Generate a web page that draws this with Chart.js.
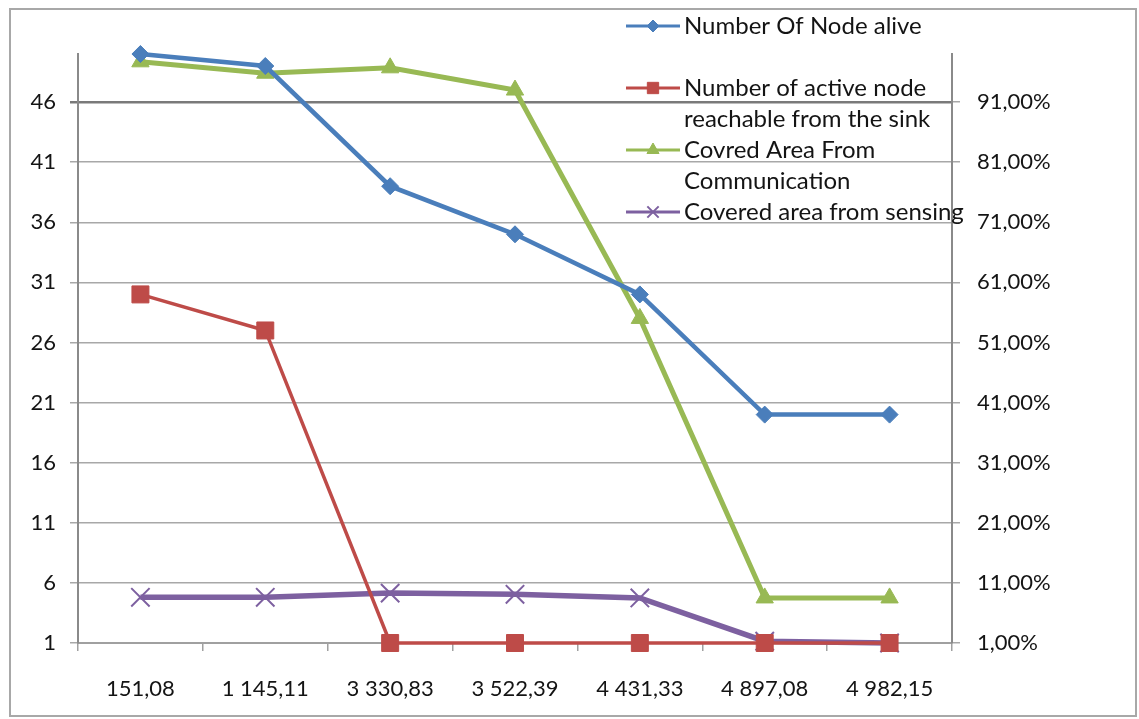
<!DOCTYPE html>
<html>
<head>
<meta charset="utf-8">
<script src="https://cdn.jsdelivr.net/npm/chart.js@4"></script>
<style>
  html, body { margin: 0; padding: 0; background: #ffffff; }
  canvas { display: block; }
</style>
</head>
<body>
<canvas id="chart" width="1139" height="719"></canvas>
<script>
// Simulation time (x categories)
const categories = ['151,08', '1 145,11', '3 330,83', '3 522,39', '4 431,33', '4 897,08', '4 982,15'];

// Left axis series (node counts)
const nodesAlive = [50, 49, 39, 35, 30, 20, 20];
const activeReachable = [30, 27, 1, 1, 1, 1, 1];

// Right axis series (coverage ratios)
const coveredComm = [0.977, 0.958, 0.967, 0.930, 0.550, 0.085, 0.085];
const coveredSensing = [0.086, 0.086, 0.093, 0.091, 0.085, 0.013, 0.010];

// Axis ticks
const leftTicks = [1, 6, 11, 16, 21, 26, 31, 36, 41, 46];
const rightTicks = [0.01, 0.11, 0.21, 0.31, 0.41, 0.51, 0.61, 0.71, 0.81, 0.91];

// Series names, as wrapped in the legend
const legendLines = [
  ['Number Of Node alive'],
  ['Number of active node', 'reachable from the sink'],
  ['Covred Area From', 'Communication'],
  ['Covered area from sensing']
];

const FONT = 'Lato';
const TEXT = '#141414';

const pct = v => (v * 100).toFixed(2).replace('.', ',') + '%';

// White background and outer chart frame
const frame = {
  id: 'frame',
  beforeDraw(chart) {
    const ctx = chart.ctx;
    ctx.save();
    ctx.fillStyle = '#ffffff';
    ctx.fillRect(0, 0, chart.width, chart.height);
    ctx.strokeStyle = '#a8a8a8';
    ctx.lineWidth = 2;
    ctx.strokeRect(10, 9, 1126, 707);
    ctx.restore();
  }
};

// Legend drawn over the upper right of the plot, with wrapped names
const sideLegend = {
  id: 'sideLegend',
  afterDraw(chart) {
    const ctx = chart.ctx;
    const x0 = 626, x1 = 680, tx = 684;
    const rows = [26, 88, 150, 212];
    const radii = [6, 8, 7, 8];
    chart.data.datasets.forEach((ds, i) => {
      const y = rows[i];
      ctx.save();
      ctx.strokeStyle = ds.borderColor;
      ctx.fillStyle = ds.backgroundColor;
      ctx.lineWidth = 3;
      ctx.beginPath();
      ctx.moveTo(x0, y);
      ctx.lineTo(x1, y);
      ctx.stroke();
      ctx.lineWidth = ds.pointBorderWidth;
      Chart.helpers.drawPoint(ctx, {
        pointStyle: ds.pointStyle,
        radius: radii[i],
        borderWidth: ds.pointBorderWidth,
        rotation: 0
      }, (x0 + x1) / 2, y);
      ctx.fillStyle = TEXT;
      ctx.font = '24px ' + FONT;
      ctx.textBaseline = 'middle';
      ctx.textAlign = 'left';
      legendLines[i].forEach((t, k) => ctx.fillText(t, tx, y + k * 31));
      ctx.restore();
    });
  }
};

new Chart(document.getElementById('chart'), {
  type: 'line',
  data: {
    labels: categories,
    datasets: [
      {
        label: legendLines[0].join(' '),
        data: nodesAlive,
        yAxisID: 'y',
        borderColor: '#4a7ebb',
        backgroundColor: '#4a7ebb',
        borderWidth: 4.5,
        pointStyle: 'rectRot',
        pointRadius: 8.5,
        pointBorderWidth: 1,
        tension: 0,
        clip: false
      },
      {
        label: legendLines[1].join(' '),
        data: activeReachable,
        yAxisID: 'y',
        borderColor: '#be4b48',
        backgroundColor: '#be4b48',
        borderWidth: 3.5,
        pointStyle: 'rect',
        pointRadius: 12,
        pointBorderWidth: 1,
        tension: 0,
        clip: false
      },
      {
        label: legendLines[2].join(' '),
        data: coveredComm,
        yAxisID: 'y1',
        borderColor: '#98b954',
        backgroundColor: '#98b954',
        borderWidth: 5,
        pointStyle: 'triangle',
        pointRadius: 10,
        pointBorderWidth: 1,
        tension: 0,
        clip: false
      },
      {
        label: legendLines[3].join(' '),
        data: coveredSensing,
        yAxisID: 'y1',
        borderColor: '#7d60a0',
        backgroundColor: '#7d60a0',
        borderWidth: 5.5,
        pointStyle: 'crossRot',
        pointRadius: 13,
        pointBorderWidth: 2,
        tension: 0,
        clip: false
      }
    ]
  },
  options: {
    responsive: false,
    animation: false,
    events: [],
    layout: { padding: { top: 54, left: 0, right: 0, bottom: 0 } },
    plugins: {
      legend: { display: false },
      tooltip: { enabled: false }
    },
    scales: {
      x: {
        type: 'category',
        offset: true,
        grid: {
          drawOnChartArea: false,
          drawTicks: true,
          tickLength: 8,
          offset: true,
          color: '#a0a0a0',
          lineWidth: 1.5
        },
        border: { color: '#a0a0a0', width: 2 },
        ticks: {
          font: { family: FONT, size: 22 },
          color: TEXT,
          padding: 25,
          maxRotation: 0,
          autoSkip: false
        },
        afterFit(s) { s.height = 76; }
      },
      y: {
        position: 'left',
        min: 1,
        max: 50,
        afterBuildTicks(s) { s.ticks = leftTicks.map(v => ({ value: v })); },
        grid: {
          color: c => (c.tick && c.tick.value === 46 ? '#7a7a7a' : '#a8a8a8'),
          lineWidth: c => (c.tick && c.tick.value === 46 ? 2.5 : 1.5),
          tickLength: 8
        },
        border: { color: '#8a8a8a', width: 2 },
        ticks: {
          font: { family: FONT, size: 22 },
          color: TEXT,
          padding: 14
        },
        afterFit(s) { s.width = 78; }
      },
      y1: {
        position: 'right',
        min: 0.01,
        max: 0.99,
        afterBuildTicks(s) { s.ticks = rightTicks.map(v => ({ value: v })); },
        grid: {
          drawOnChartArea: false,
          tickLength: 8,
          color: '#a8a8a8',
          lineWidth: 1.5
        },
        border: { color: '#8a8a8a', width: 2 },
        ticks: {
          font: { family: FONT, size: 22 },
          color: TEXT,
          padding: 17,
          callback: v => pct(v)
        },
        afterFit(s) { s.width = 187; }
      }
    }
  },
  plugins: [frame, sideLegend]
});
</script>
</body>
</html>
